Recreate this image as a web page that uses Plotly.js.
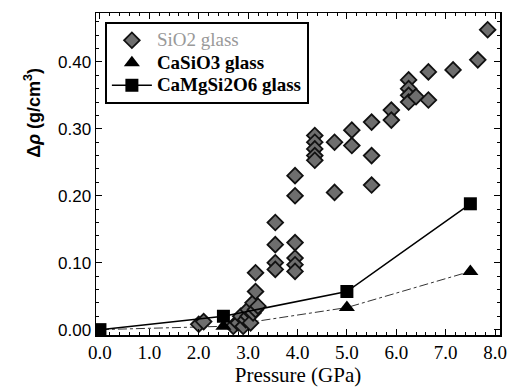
<!DOCTYPE html>
<html>
<head>
<meta charset="utf-8">
<script src="https://cdn.plot.ly/plotly-3.0.1.min.js"></script>
<style>html,body{margin:0;padding:0;background:#fff}#chart{width:516px;height:389px}</style>
</head>
<body>
<div id="chart"></div>
<script>
// SiO2 glass
var sio2P = [2.0, 2.1, 2.7, 2.8, 2.85, 2.9, 2.95, 3.0, 3.0, 3.05, 3.1, 3.1, 3.15, 3.2,
             3.15, 3.15, 3.55, 3.55, 3.55, 3.55, 3.95, 3.95, 3.95, 3.95, 3.95, 3.95,
             4.35, 4.35, 4.35, 4.35, 4.35, 4.75, 4.75, 5.1, 5.1, 5.5, 5.5, 5.5,
             5.9, 5.9, 6.25, 6.25, 6.25, 6.25, 6.4, 6.65, 6.65, 7.15, 7.65, 7.85];
var sio2D = [0.008, 0.012, 0.005, 0.01, 0.02, 0.005, 0.015, 0.02, 0.03, 0.01, 0.025, 0.04, 0.03, 0.035,
             0.057, 0.085, 0.16, 0.127, 0.1, 0.09, 0.23, 0.2, 0.13, 0.107, 0.097, 0.087,
             0.29, 0.28, 0.27, 0.26, 0.253, 0.28, 0.205, 0.298, 0.275, 0.31, 0.26, 0.216,
             0.328, 0.313, 0.373, 0.36, 0.35, 0.34, 0.348, 0.385, 0.343, 0.388, 0.403, 0.448];
// CaSiO3 glass
var casio3P = [0.0, 2.5, 5.0, 7.5];
var casio3D = [0.0, 0.005, 0.033, 0.087];
// CaMgSi2O6 glass
var cmsP = [0.0, 2.5, 5.0, 7.5];
var cmsD = [0.0, 0.02, 0.057, 0.188];

var xTicks = [0, 1, 2, 3, 4, 5, 6, 7, 8];
var xTickText = ['0.0', '1.0', '2.0', '3.0', '4.0', '5.0', '6.0', '7.0', '8.0'];
var yTicks = [0, 0.1, 0.2, 0.3, 0.4];
var yTickText = ['0.00', '0.10', '0.20', '0.30', '0.40'];

var traces = [
  {x: casio3P, y: casio3D, mode: 'lines', showlegend: false,
   line: {color: '#333', width: 1, dash: 'dashdot'}, hoverinfo: 'skip'},
  {x: sio2P, y: sio2D, mode: 'markers', name: '<span style="color:#999;font-weight:normal;font-size:19px">SiO2 glass</span>',
   marker: {symbol: 'diamond', size: 12, color: '#6e6e6e', line: {color: '#111', width: 1.8}}},
  {x: casio3P.slice(1), y: casio3D.slice(1), mode: 'markers', name: '<span style="font-size:19px">CaSiO3 glass</span>',
   marker: {symbol: 'triangle-up', size: 14, color: '#000'}},
  {x: cmsP, y: cmsD, mode: 'lines+markers', name: '<span style="font-size:19px">CaMgSi2O6 glass</span>',
   line: {color: '#000', width: 1.5},
   marker: {symbol: 'square', size: 13, color: '#000'}}
];

var layout = {
  width: 516, height: 389,
  margin: {l: 96, r: 16, t: 13, b: 54},
  paper_bgcolor: '#fff', plot_bgcolor: '#fff',
  showlegend: true,
  legend: {
    x: 0.022, y: 0.972, xanchor: 'left', yanchor: 'top',
    bgcolor: '#fff', bordercolor: '#000', borderwidth: 2,
    font: {family: 'Liberation Serif, serif', size: 15, color: '#000', weight: 'bold'},
    traceorder: 'normal', tracegroupgap: 0, itemwidth: 40
  },
  xaxis: {
    range: [-0.08, 8.1], tickvals: xTicks, ticktext: xTickText,
    ticks: 'inside', ticklen: 6, tickwidth: 1, tickcolor: '#000',
    minor: {dtick: 0.2, ticks: 'inside', ticklen: 3, tickcolor: '#000'},
    showline: true, linecolor: '#000', linewidth: 1.5, mirror: 'ticks',
    showgrid: false, zeroline: false,
    tickfont: {family: 'Liberation Serif, serif', size: 19, color: '#000'},
    title: {text: 'Pressure (GPa)', font: {family: 'Liberation Serif, serif', size: 21, color: '#000'}, standoff: 5}
  },
  yaxis: {
    range: [-0.008, 0.473], tickvals: yTicks, ticktext: yTickText,
    ticks: 'inside', ticklen: 6, tickwidth: 1, tickcolor: '#000',
    minor: {dtick: 0.02, ticks: 'inside', ticklen: 3, tickcolor: '#000'},
    showline: true, linecolor: '#000', linewidth: 1.5, mirror: 'ticks',
    showgrid: false, zeroline: false,
    tickfont: {family: 'Liberation Sans, Arial, sans-serif', size: 17, color: '#000'}
  },
  annotations: [{
    text: 'Δ<i>ρ</i> (g/cm<sup>3</sup>)', textangle: -90,
    xref: 'paper', yref: 'paper', x: -0.156, y: 0.69, xanchor: 'center', yanchor: 'middle',
    showarrow: false,
    font: {family: 'Liberation Sans, Arial, sans-serif', size: 18, color: '#000', weight: 'bold'}
  }]
};

Plotly.newPlot('chart', traces, layout, {displayModeBar: false, staticPlot: true});
</script>
</body>
</html>
